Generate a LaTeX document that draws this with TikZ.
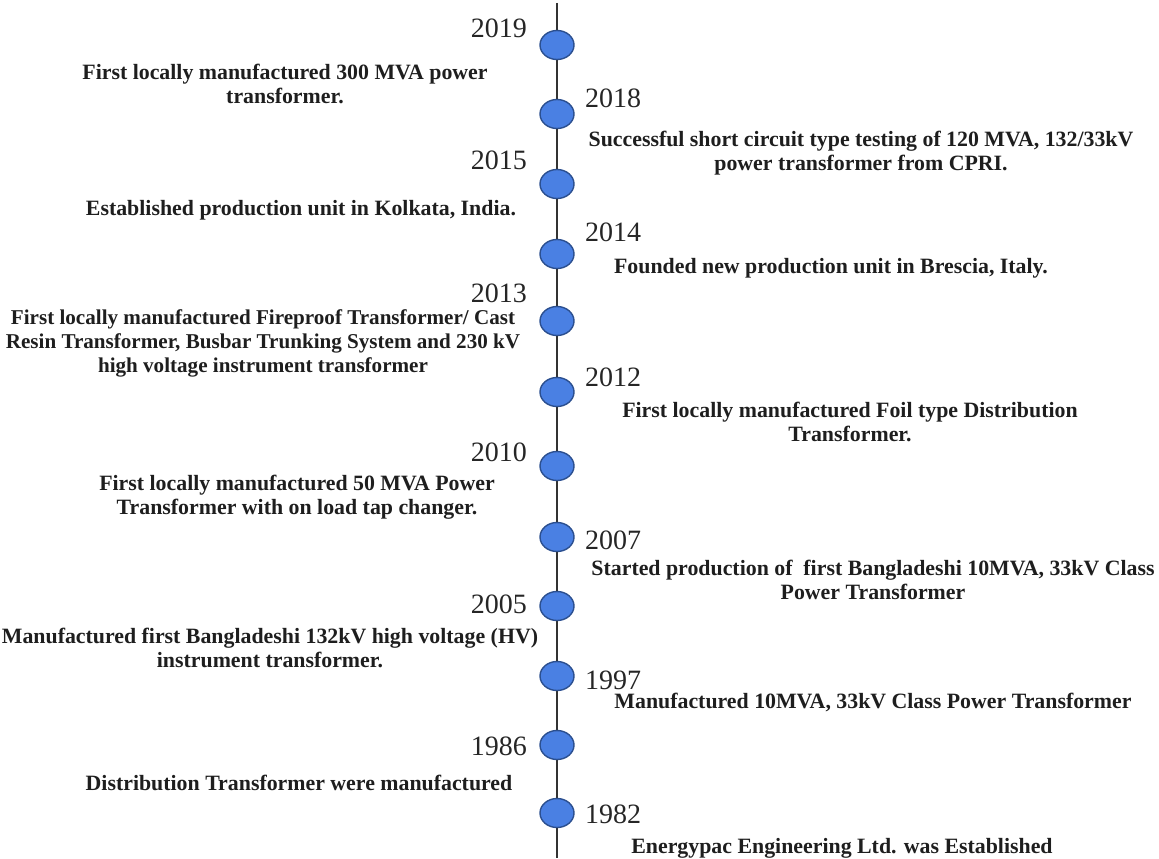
\documentclass[tikz,border=0pt]{standalone}
\usepackage{fontspec}
\setmainfont{Liberation Serif}
\usetikzlibrary{shapes.geometric}
\definecolor{dotfill}{HTML}{4A80E3}
\definecolor{dotline}{HTML}{2B4F8F}
\definecolor{txt}{HTML}{1E1E1E}
\begin{document}
\begin{tikzpicture}[x=1pt,y=-1pt,
  dot/.style={ellipse,draw=dotline,line width=1.4pt,fill=dotfill,minimum width=34pt,minimum height=29pt,inner sep=0pt},
  yearL/.style={anchor=east,font=\fontsize{28}{28}\selectfont,text=black!85,inner sep=0pt},
  yearR/.style={anchor=west,font=\fontsize{28}{28}\selectfont,text=black!85,inner sep=0pt},
  desc/.style={align=center,font=\bfseries\fontsize{21.85}{24.5}\selectfont,text=txt,inner sep=0pt},
  descs/.style={align=center,font=\bfseries\fontsize{21.1}{24}\selectfont,text=txt,inner sep=0pt},
  axis/.style={draw=black!80,line width=1.1pt}]
\useasboundingbox (0,0) rectangle (1159,859);
\coordinate (top) at (557,3);
\coordinate (bot) at (557,858);
\draw[axis] (top) -- (bot);
\node[dot] (d2019) at (557,45) {};
\node[dot] (d2018) at (557,114) {};
\node[dot] (d2015) at (557,184) {};
\node[dot] (d2014) at (557,254) {};
\node[dot] (d2013) at (557,321) {};
\node[dot] (d2012) at (557,392) {};
\node[dot] (d2010) at (557,466) {};
\node[dot] (d2007) at (557,537) {};
\node[dot] (d2005) at (557,606) {};
\node[dot] (d1997) at (557,676) {};
\node[dot] (d1986) at (557,745) {};
\node[dot] (d1982) at (557,813) {};
\node[yearL] (y2019) at (527,28) {2019};
\node[yearR] (y2018) at (585,98) {2018};
\node[yearL] (y2015) at (527,160) {2015};
\node[yearR] (y2014) at (585,232) {2014};
\node[yearL] (y2013) at (527,293) {2013};
\node[yearR] (y2012) at (585,377) {2012};
\node[yearL] (y2010) at (527,452) {2010};
\node[yearR] (y2007) at (585,540) {2007};
\node[yearL] (y2005) at (527,604) {2005};
\node[yearR] (y1997) at (585,680) {1997};
\node[yearL] (y1986) at (527,746) {1986};
\node[yearR] (y1982) at (585,814) {1982};
\node[desc] (t2019) at (285,84) {First locally manufactured 300 MVA power\\transformer.};
\node[desc] (t2018) at (861,153) {Successful short circuit type testing of 120 MVA, 132/33kV\\power transformer from CPRI.};
\node[desc] (t2015) at (301,210) {Established production unit in Kolkata, India.};
\node[desc] (t2014) at (831,268) {Founded new production unit in Brescia, Italy.};
\node[descs] (t2013) at (263,343) {First locally manufactured Fireproof Transformer/ Cast\\Resin Transformer, Busbar Trunking System and 230 kV\\high voltage instrument transformer};
\node[desc] (t2012) at (850,422) {First locally manufactured Foil type Distribution\\Transformer.};
\node[desc] (t2010) at (297,497) {First locally manufactured 50 MVA Power\\Transformer with on load tap changer.};
\node[desc] (t2007) at (873,580) {Started production of~ first Bangladeshi 10MVA, 33kV Class\\Power Transformer};
\node[desc] (t2005) at (270,648) {Manufactured first Bangladeshi 132kV high voltage (HV)\\instrument transformer.};
\node[desc] (t1997) at (873,702) {Manufactured 10MVA, 33kV Class Power Transformer};
\node[desc] (t1986) at (299,783) {Distribution Transformer were manufactured};
\node[desc] (t1982) at (842,848) {Energypac Engineering Ltd. was Established};
\end{tikzpicture}
\end{document}
